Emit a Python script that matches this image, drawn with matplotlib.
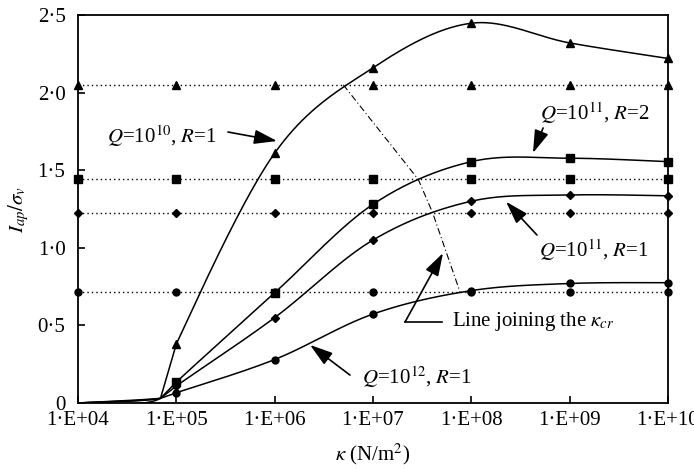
import numpy as np
import matplotlib
matplotlib.use("Agg")
from matplotlib import pyplot as plt
from matplotlib.ticker import FixedLocator, FuncFormatter, NullLocator

plt.rcParams["font.family"] = ["Liberation Serif", "DejaVu Serif"]
plt.rcParams["mathtext.fontset"] = "stix"
plt.rcParams["font.size"] = 15

# kappa (N/m^2) at the marked points
kappa = [1e5, 1e6, 1e7, 1e8, 1e9, 1e10]
# start of the curves (no markers)
kappa_lead = [1e4, 6.9e4]
lead_vals = [0.0, 0.03]

q10_r1 = [0.38, 1.61, 2.16, 2.447, 2.32, 2.22]
q11_r2 = [0.135, 0.71, 1.28, 1.555, 1.577, 1.555]
q11_r1 = [0.11, 0.55, 1.05, 1.30, 1.34, 1.335]
q12_r1 = [0.066, 0.28, 0.573, 0.724, 0.77, 0.775]

# horizontal reference levels (dotted)
kappa_ref = [1e4, 1e5, 1e6, 1e7, 1e8, 1e9, 1e10]
ref_q10_r1 = 2.05
ref_q11_r2 = 1.44
ref_q11_r1 = 1.225
ref_q12_r1 = 0.715

# line joining kappa_cr
kcr_x = [10**6.698, 10**7.461, 10**7.607, 10**7.885]
kcr_y = [2.05, 1.44, 1.225, 0.715]

fig = plt.figure(figsize=(6.94, 4.70), dpi=100)
ax = fig.add_axes([0.1124, 0.1426, 0.8501, 0.8255])
ax.set_xscale("log")
ax.set_xlim(1e4, 1e10)
ax.set_ylim(0, 2.5)

# scale used for the smoothing (roughly screen pixels per decade / per unit)
sx = 590 / 6.0
sy = 388 / 2.5


def smooth(xs, ys, n=40):
    # bezier smoothing in screen-like space, as spreadsheet programs do
    u = np.log10(np.array(xs, float)) * sx
    v = np.array(ys, float) * sy
    P = np.column_stack([u, v])
    m = len(P)
    out = []
    for i in range(m - 1):
        p0 = P[i]
        p3 = P[i + 1]
        prev = P[i - 1] if i > 0 else P[i]
        nxt = P[i + 2] if i + 2 < m else P[i + 1]
        c1 = p0 + (p3 - prev) / 6.0
        c2 = p3 - (nxt - p0) / 6.0
        # a segment that would loop back is drawn straight
        if not (p0[0] <= c1[0] <= p3[0] and p0[0] <= c2[0] <= p3[0]):
            c1 = p0 + (p3 - p0) / 3.0
            c2 = p3 - (p3 - p0) / 3.0
        t = np.linspace(0, 1, n)[:, None]
        seg = ((1 - t) ** 3) * p0 + 3 * ((1 - t) ** 2) * t * c1 + 3 * (1 - t) * t ** 2 * c2 + t ** 3 * p3
        out.append(seg)
    out = np.vstack(out)
    return 10 ** (out[:, 0] / sx), out[:, 1] / sy


series = [(q10_r1, "^", 5.5, ref_q10_r1),
          (q11_r2, "s", 5.5, ref_q11_r2),
          (q11_r1, "D", 4, ref_q11_r1),
          (q12_r1, "o", 5, ref_q12_r1)]

for vals, mk, ms, ref in series:
    xs, ys = smooth(kappa_lead + kappa, lead_vals + vals)
    ax.plot(xs, ys, color="black", lw=1.1)
    ax.plot(kappa, vals, ls="none", marker=mk, ms=ms, color="black", clip_on=False, zorder=5)
    ax.plot(kappa_ref, [ref] * len(kappa_ref), color="black", lw=1.0, ls=(0, (1, 2.2)),
            marker=mk, ms=ms, clip_on=False, zorder=4)

ax.plot(kcr_x, kcr_y, color="black", lw=0.8, ls=(0, (6, 2.5, 1, 2.5)))

arrow = dict(arrowstyle="-|>,head_length=0.7,head_width=0.22", color="black", lw=1.2,
             shrinkA=0, shrinkB=0, mutation_scale=20)

ax.annotate("", xy=(10**6.024, 1.688), xytext=(10**5.525, 1.746), arrowprops=arrow)
ax.text(10**4.854, 1.72, "$Q$=10$^{10}$, $R$=1", ha="center", va="center")

ax.annotate("", xy=(10**8.627, 1.611), xytext=(10**8.73, 1.772), arrowprops=arrow)
ax.text(10**9.258, 1.869, "$Q$=10$^{11}$, $R$=2", ha="center", va="center")

ax.annotate("", xy=(10**8.353, 1.297), xytext=(10**8.668, 1.082), arrowprops=arrow)
ax.text(10**9.248, 0.986, "$Q$=10$^{11}$, $R$=1", ha="center", va="center")

ax.plot([10**7.70, 10**7.326], [0.522, 0.522], color="black", lw=1.2)
ax.annotate("", xy=(10**7.712, 0.966), xytext=(10**7.326, 0.522), arrowprops=arrow)
ax.text(10**7.803, 0.522, "Line joining the $\\kappa_{cr}$", ha="left", va="center")

ax.annotate("", xy=(10**6.36, 0.374), xytext=(10**6.766, 0.18), arrowprops=arrow)
ax.text(10**7.447, 0.168, "$Q$=10$^{12}$, $R$=1", ha="center", va="center")

ax.xaxis.set_major_locator(FixedLocator(kappa_ref))
ax.xaxis.set_minor_locator(NullLocator())
ax.xaxis.set_major_formatter(FuncFormatter(lambda v, p: "1\u00b7E+%02d" % round(np.log10(v))))
ax.set_yticks([0, 0.5, 1.0, 1.5, 2.0, 2.5])
ax.yaxis.set_major_formatter(FuncFormatter(lambda v, p: "0" if v == 0 else ("%.1f" % v).replace(".", "\u00b7")))
ax.tick_params(direction="in", length=5, width=1.2, top=False, right=False)
ax.tick_params(axis="x", pad=6)
ax.tick_params(axis="y", pad=9)
for s in ax.spines.values():
    s.set_linewidth(1.3)

ax.set_xlabel("$\\kappa$ (N/m$^2$)", labelpad=8)
ax.set_ylabel("$I_{ap}/\\sigma_v$", labelpad=5)

fig.savefig("out.png", dpi=100)
